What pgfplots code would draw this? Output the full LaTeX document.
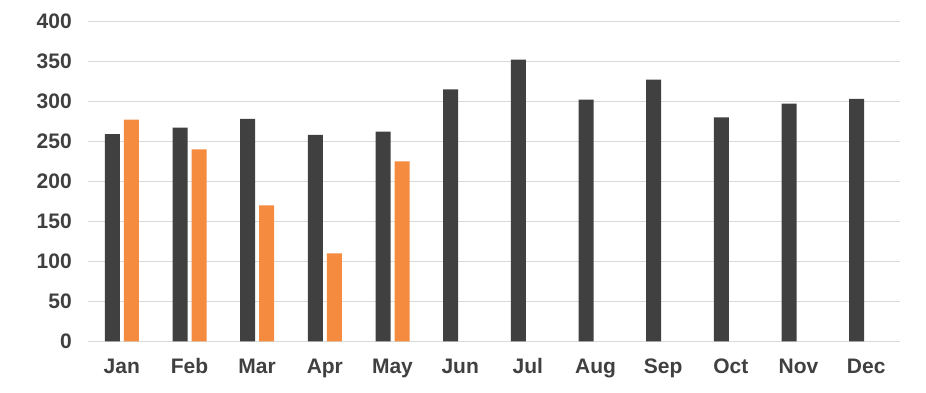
\documentclass[border=0pt]{standalone}
\usepackage{pgfplots}
\pgfplotsset{compat=1.18}
\usepackage{fontspec}
\setmainfont{Liberation Sans}
\definecolor{darkbar}{HTML}{404040}
\definecolor{orangebar}{HTML}{F58B3F}
\definecolor{gridc}{HTML}{D9D9D9}
\definecolor{txt}{HTML}{404040}
\begin{document}
\begin{tikzpicture}
\begin{axis}[
  scale only axis,
  width=812pt, height=320pt,
  ymin=0, ymax=400, ytick={0,50,...,400},
  xmin=-0.5, xmax=11.5,
  xtick={0,...,11},
  xticklabels={Jan,Feb,Mar,Apr,May,Jun,Jul,Aug,Sep,Oct,Nov,Dec},
  ybar=4pt, bar width=15pt,
  axis line style={draw=none},
  major tick length=0pt,
  ymajorgrids, grid style={gridc, line width=0.8pt},
  /pgf/number format/assume math mode=true,
  ticklabel style={font=\bfseries\fontsize{21}{23}\selectfont, text=txt},
  yticklabel style={xshift=-12.7pt},
  xticklabel style={anchor=base, yshift=-32pt},
  clip=false,
]
\addplot[fill=darkbar, draw=none] coordinates {
 (0,259) (1,267) (2,278) (3,258) (4,262) (5,315) (6,352) (7,302) (8,327) (9,280) (10,297) (11,303)};
\addplot[fill=orangebar, draw=none] coordinates {
 (0,277) (1,240) (2,170) (3,110) (4,225)};
\end{axis}
\path ([shift={(-88pt,-51.7pt)}]current axis.south west) rectangle ([shift={(26pt,21.3pt)}]current axis.north east);
\end{tikzpicture}
\end{document}
